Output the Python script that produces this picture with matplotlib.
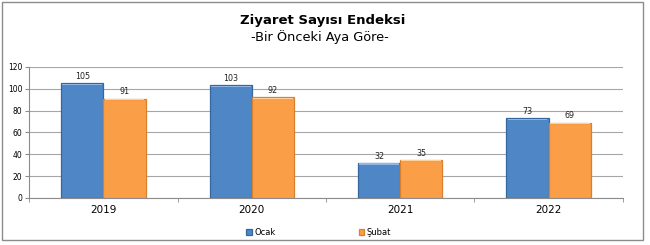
import matplotlib.pyplot as plt
import numpy as np
from matplotlib.patches import Rectangle

years = ["2019", "2020", "2021", "2022"]
ocak = [105, 103, 32, 73]
subat = [91, 92, 35, 69]
y_ticks = [0, 20, 40, 60, 80, 100, 120]

plt.rcParams['font.family'] = ['DejaVu Sans']

fig = plt.figure(figsize=(6.5, 2.45), dpi=100)
fig.patches.append(Rectangle((0.003, 0.02), 0.986, 0.972, transform=fig.transFigure,
                             fill=False, edgecolor="#8c8c8c", linewidth=1.0))

ax = fig.add_axes([0.045, 0.192, 0.913, 0.535])
x = np.arange(len(years))
w = 0.285

b1 = ax.bar(x - w / 2, ocak, w, color="#4f86c6", edgecolor="#35679f", linewidth=0.9, label="Ocak", zorder=3)
b2 = ax.bar(x + w / 2, subat, w, color="#fb9e48", edgecolor="#d9802f", linewidth=0.9, label="Şubat", zorder=3)

# light strip on the top of each bar
ax.bar(x - w / 2, [1.2] * len(x), w * 0.94, bottom=[v - 1.6 for v in ocak], color="#8fb6e6", linewidth=0, zorder=4)
ax.bar(x + w / 2, [1.2] * len(x), w * 0.94, bottom=[v - 1.6 for v in subat], color="#ffd09a", linewidth=0, zorder=4)

for bars, vals in ((b1, ocak), (b2, subat)):
    for r, v in zip(bars, vals):
        ax.text(r.get_x() + r.get_width() / 2, v + 2, str(v), ha="center", va="bottom",
                fontsize=5.8, color="#222222")

ax.set_xlim(-0.5, len(years) - 0.5)
ax.set_ylim(0, 120)
ax.set_yticks(y_ticks)
ax.set_yticklabels([str(t) for t in y_ticks], fontsize=5.5)
ax.set_xticks(x)
ax.set_xticklabels(years, fontsize=7.5)
ax.set_xticks(np.arange(len(years) + 1) - 0.5, minor=True)
ax.tick_params(axis="x", which="major", length=0, pad=5)
ax.tick_params(axis="x", which="minor", length=3, color="#8c8c8c")
ax.tick_params(axis="y", length=3, color="#8c8c8c", pad=2)
ax.grid(True, axis="y", color="#a6a6a6", linewidth=0.8, zorder=0)
for s in ("top", "right"):
    ax.spines[s].set_visible(False)
ax.spines["left"].set_color("#8c8c8c")
ax.spines["bottom"].set_color("#8c8c8c")

fig.text(0.496, 0.915, "Ziyaret Sayısı Endeksi", ha="center", va="center", fontsize=9.5, fontweight="bold")
fig.text(0.492, 0.85, "-Bir Önceki Aya Göre-", ha="center", va="center", fontsize=9.3)

fig.legend(handles=[b1, b2], loc="center", bbox_to_anchor=(0.49, 0.052), ncol=2, frameon=False,
           fontsize=6, handlelength=0.7, handleheight=0.7, handletextpad=0.3, columnspacing=10)

plt.savefig("out.png", dpi=100)
